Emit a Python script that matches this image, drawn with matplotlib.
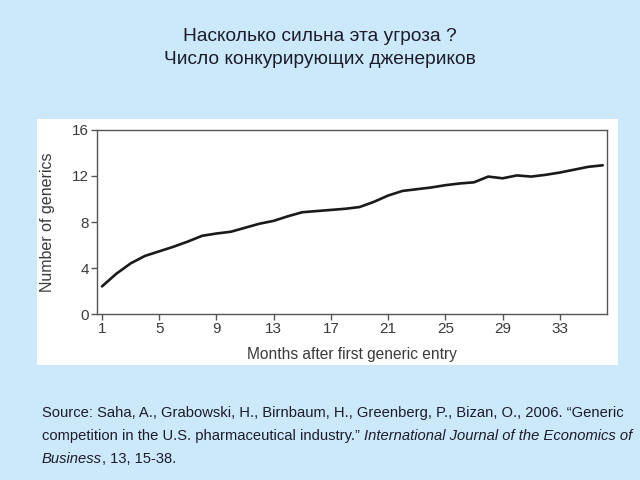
import matplotlib
matplotlib.use("Agg")
import matplotlib.pyplot as plt
from matplotlib.patches import Rectangle

# данные
months = list(range(1, 37))
n_generics = [2.4, 3.5, 4.4, 5.05, 5.45, 5.85, 6.3, 6.8, 7.0, 7.15,
              7.5, 7.85, 8.1, 8.5, 8.85, 8.95, 9.05, 9.15, 9.3, 9.75,
              10.3, 10.7, 10.85, 11.0, 11.2, 11.35, 11.45, 11.95, 11.8, 12.05,
              11.95, 12.1, 12.3, 12.55, 12.8, 12.93]
x_ticks = [1, 5, 9, 13, 17, 21, 25, 29, 33]
y_ticks = [0, 4, 8, 12, 16]

title = "Насколько сильна эта угроза ?\nЧисло конкурирующих дженериков"
src1 = "Source: Saha, A., Grabowski, H., Birnbaum, H., Greenberg, P., Bizan, O., 2006. \u201cGeneric"
src2a = "competition in the U.S. pharmaceutical industry.\u201d "
src2b = "International Journal of the Economics of"
src3a = "Business"
src3b = ", 13, 15-38."

plt.rcParams['font.family'] = ['Liberation Sans', 'DejaVu Sans']

bg = '#cce9fb'
fig = plt.figure(figsize=(6.4, 4.8), dpi=100, facecolor=bg)

# белая подложка под график
fig.patches.append(Rectangle((37 / 640, 1 - 365 / 480), 581 / 640, 246 / 480,
                             transform=fig.transFigure, facecolor='white',
                             edgecolor='none', zorder=-1))

fig.text(0.5, 1 - 48 / 480, title, ha='center', va='center', fontsize=13.8,
         color='#1c1c2a', linespacing=1.45)

ax = fig.add_axes([97 / 640, 1 - 314 / 480, 510 / 640, 184 / 480])
ax.plot(months, n_generics, color='#1a1a1a', lw=1.9, solid_capstyle='round',
        solid_joinstyle='round')
ax.set_xlim(0.65, 36.3)
ax.set_ylim(0, 16)
ax.set_xticks(x_ticks)
ax.set_yticks(y_ticks)
for s in ax.spines.values():
    s.set_color('#555555')
    s.set_linewidth(1.0)
ax.tick_params(direction='out', length=4, width=1, color='#555555',
               labelsize=11, labelcolor='#3a3a3a', pad=2)
ax.set_xlabel("Months after first generic entry", fontsize=11.2, color='#3a3a3a', labelpad=8)
ax.set_ylabel("Number of generics", fontsize=11.5, color='#3a3a3a', labelpad=12)

fs = 10.6
tc = '#1c1c2a'
fig.text(42 / 640, 1 - 417 / 480, src1, fontsize=fs, color=tc, va='baseline')
renderer = fig.canvas.get_renderer()


def text_pair(y, a, b, a_style, b_style):
    ta = fig.text(42 / 640, y, a, fontsize=fs, color=tc, va='baseline', style=a_style)
    w = ta.get_window_extent(renderer).width / fig.bbox.width
    fig.text(42 / 640 + w, y, b, fontsize=fs, color=tc, va='baseline', style=b_style)


text_pair(1 - 440 / 480, src2a, src2b, 'normal', 'italic')
text_pair(1 - 463 / 480, src3a, src3b, 'italic', 'normal')

fig.savefig("out.png", dpi=100, facecolor=bg)
